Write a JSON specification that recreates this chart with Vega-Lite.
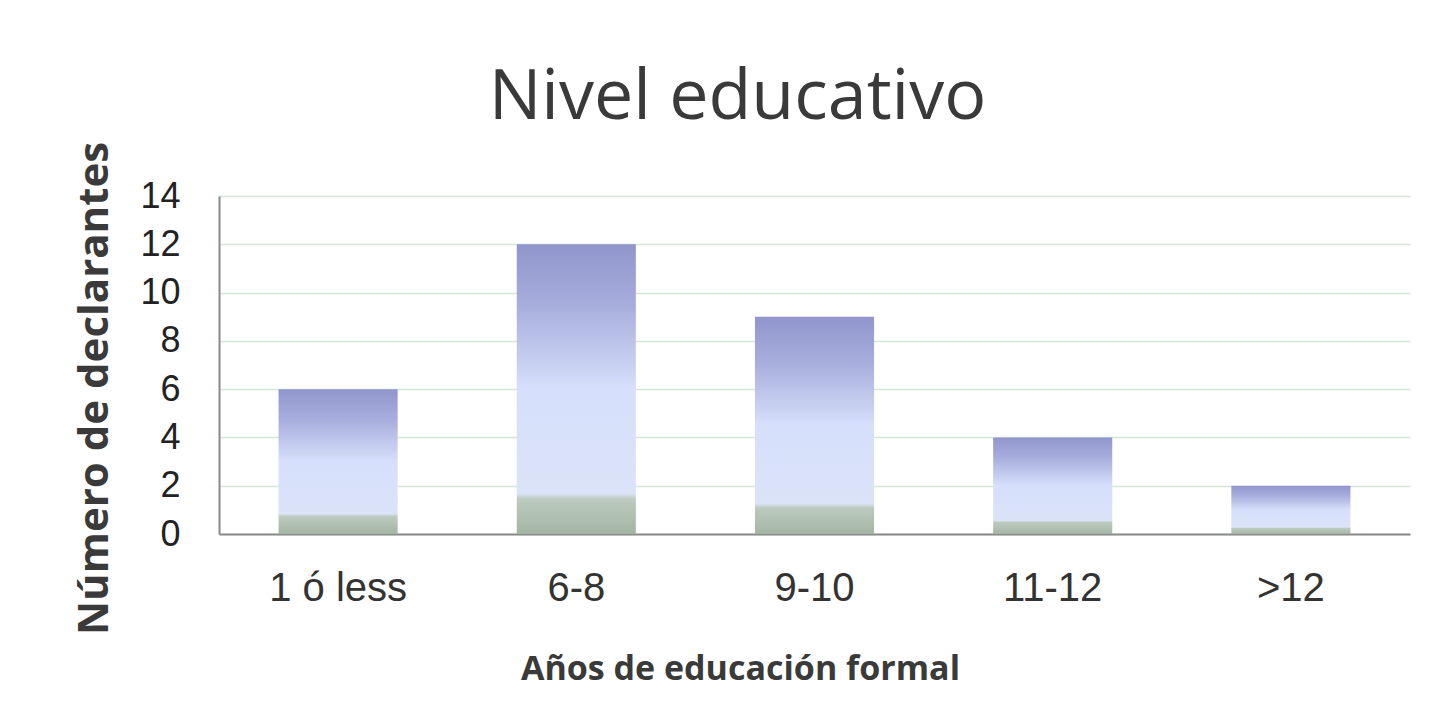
{
  "$schema": "https://vega.github.io/schema/vega-lite/v6.json",
  "autosize": {"type": "none"},
  "width": 1191,
  "height": 338,
  "padding": {"left": 219, "top": 196, "right": 37, "bottom": 187},
  "background": "white",
  "title": {
    "text": "Nivel educativo",
    "font": "Open Sans",
    "fontSize": 70,
    "fontWeight": 500,
    "color": "#3a3a3a",
    "anchor": "middle",
    "frame": "group",
    "baseline": "alphabetic",
    "offset": -48,
    "dx": -77
  },
  "data": {
    "values": [
      {"educacion": "1 ó less", "declarantes": 6},
      {"educacion": "6-8", "declarantes": 12},
      {"educacion": "9-10", "declarantes": 9},
      {"educacion": "11-12", "declarantes": 4},
      {"educacion": ">12", "declarantes": 2}
    ]
  },
  "mark": {
    "type": "bar",
    "color": {
      "gradient": "linear",
      "x1": 0, "y1": 0, "x2": 0, "y2": 1,
      "stops": [
        {"offset": 0, "color": "#9096cc"},
        {"offset": 0.2, "color": "#a6acdb"},
        {"offset": 0.5, "color": "#d6dffb"},
        {"offset": 0.86, "color": "#dbe3f8"},
        {"offset": 0.88, "color": "#bccabf"},
        {"offset": 1, "color": "#a3b5a4"}
      ]
    }
  },
  "encoding": {
    "x": {
      "field": "educacion",
      "type": "nominal",
      "sort": null,
      "scale": {"paddingInner": 0.5, "paddingOuter": 0.25},
      "axis": {
        "title": "Años de educación formal",
        "titleFont": "Open Sans",
        "titleFontSize": 34,
        "titleFontWeight": "bold",
        "titleColor": "#3a3a3a",
        "titleX": 521,
        "titleY": 145,
        "titleAlign": "center",
        "titleBaseline": "alphabetic",
        "labelAngle": 0,
        "labelFont": "Liberation Sans",
        "labelFontSize": 40,
        "labelColor": "#333333",
        "labelBaseline": "alphabetic",
        "labelPadding": 66,
        "ticks": false,
        "domainColor": "#8a8a8a",
        "domainWidth": 2
      }
    },
    "y": {
      "field": "declarantes",
      "type": "quantitative",
      "scale": {"domain": [0, 14]},
      "axis": {
        "values": [0, 2, 4, 6, 8, 10, 12, 14],
        "title": "Número de declarantes",
        "titleFont": "Open Sans",
        "titleFontSize": 42,
        "titleFontWeight": "bold",
        "titleColor": "#3a3a3a",
        "titleAngle": 270,
        "titleX": -112,
        "titleY": 192,
        "titleAlign": "center",
        "titleBaseline": "alphabetic",
        "labelFont": "Liberation Sans",
        "labelFontSize": 36,
        "labelColor": "#222222",
        "labelPadding": 39,
        "ticks": false,
        "domainColor": "#8a8a8a",
        "domainWidth": 2,
        "gridColor": "#d4e6d6",
        "gridWidth": 1.5
      }
    }
  },
  "config": {
    "view": {"stroke": null}
  }
}
